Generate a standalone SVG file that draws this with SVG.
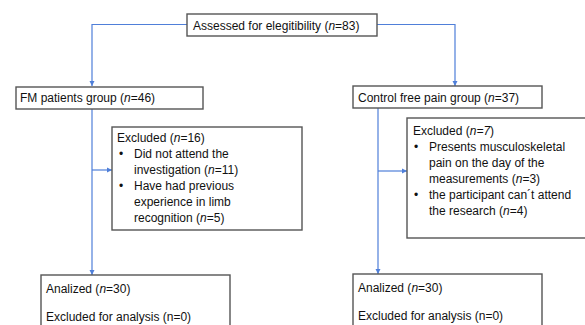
<svg xmlns="http://www.w3.org/2000/svg" width="585" height="325" viewBox="0 0 585 325">
<style>
.box{fill:#fff;stroke:#555;stroke-width:1.4}
.t{font-family:"Liberation Sans",Arial,sans-serif;font-size:12px;fill:#111}
.i{font-style:italic}
.c{fill:none;stroke:#4f7fd9;stroke-width:1.2}
</style>
<defs>
<marker id="ah" markerUnits="userSpaceOnUse" markerWidth="6" markerHeight="6" refX="5" refY="3" orient="auto">
<path d="M0,0.5 L5,3 L0,5.5 z" fill="#4f7fd9"/>
</marker>
</defs>
<rect width="585" height="325" fill="#fff"/>
<g id="connectors">
<path class="c" d="M187,24.5 H92 V86" marker-end="url(#ah)"/>
<path class="c" d="M377,24.5 H455 V86" marker-end="url(#ah)"/>
<path class="c" d="M92,109 V275" marker-end="url(#ah)"/>
<path class="c" d="M92,170 H112" marker-end="url(#ah)"/>
<path class="c" d="M378,108 V274" marker-end="url(#ah)"/>
<path class="c" d="M378,171 H407" marker-end="url(#ah)"/>
</g>
<g id="assessed">
<rect class="box" x="187" y="14" width="190" height="22"/>
<text class="t" x="193" y="29.5">Assessed for elegitibility (<tspan class="i">n</tspan>=83)</text>
</g>
<g id="fm-group">
<rect class="box" x="16" y="87" width="187" height="22"/>
<text class="t" x="20" y="102">FM patients group (<tspan class="i">n</tspan>=46)</text>
</g>
<g id="control-group">
<rect class="box" x="353" y="86" width="189" height="22"/>
<text class="t" x="358" y="101.5">Control free pain group (<tspan class="i">n</tspan>=37)</text>
</g>
<g id="fm-excluded">
<rect class="box" x="112" y="127" width="190" height="103"/>
<text class="t" x="117" y="142">Excluded  (<tspan class="i">n</tspan>=16)</text>
<text class="t" x="119" y="158">•</text>
<text class="t" x="134" y="158">Did not attend the</text>
<text class="t" x="134" y="174">investigation (<tspan class="i">n</tspan>=11)</text>
<text class="t" x="119" y="190">•</text>
<text class="t" x="134" y="190">Have had previous</text>
<text class="t" x="134" y="206">experience in limb</text>
<text class="t" x="134" y="222">recognition (<tspan class="i">n</tspan>=5)</text>
</g>
<g id="control-excluded">
<rect class="box" x="407" y="118" width="190" height="120"/>
<text class="t" x="413" y="135">Excluded  (<tspan class="i">n=7</tspan>)</text>
<text class="t" x="414" y="151">•</text>
<text class="t" x="429" y="151">Presents musculoskeletal</text>
<text class="t" x="429" y="167">pain on the day of the</text>
<text class="t" x="429" y="183">measurements (<tspan class="i">n</tspan>=3)</text>
<text class="t" x="414" y="199">•</text>
<text class="t" x="429" y="199">the participant can´t attend</text>
<text class="t" x="429" y="215">the research (<tspan class="i">n</tspan>=4)</text>
</g>
<g id="fm-analized">
<rect class="box" x="41" y="275" width="189" height="60"/>
<text class="t" x="46" y="293">Analized (<tspan class="i">n</tspan>=30)</text>
<text class="t" x="46" y="321">Excluded for analysis (n=0)</text>
</g>
<g id="control-analized">
<rect class="box" x="353" y="274" width="189" height="60"/>
<text class="t" x="358" y="292">Analized (<tspan class="i">n</tspan>=30)</text>
<text class="t" x="358" y="320">Excluded for analysis (n=0)</text>
</g>
</svg>
